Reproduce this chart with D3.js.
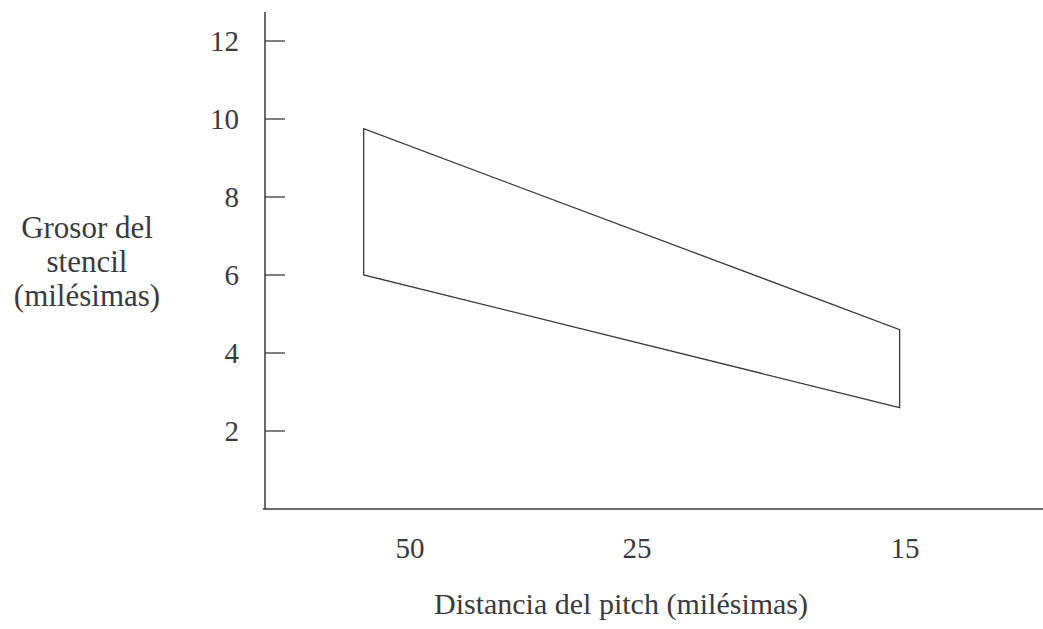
<!DOCTYPE html>
<html><head><meta charset="utf-8">
<script src="https://cdn.jsdelivr.net/npm/d3@7"></script>
<style>html,body{margin:0;padding:0;background:#fff;}svg{display:block;}</style>
</head><body>
<script>
// Data
const pitchCategories = [50, 25, 15];            // x tick labels (schematic axis)
const yTicks = [2, 4, 6, 8, 10, 12];
// Polygon outline: pitch (x) and stencil thickness (y)
const regionPitch = [55.1, 55.1, 15.2, 15.2];
const regionThickness = [9.75, 6.0, 2.6, 4.6];
const yLabelLines = ["Grosor del", "stencil", "(milésimas)"];
const xLabel = "Distancia del pitch (milésimas)";

const W = 1043, H = 629;
const svg = d3.select("body").append("svg").attr("width", W).attr("height", H);
const ink = "#3a3a3e";
const font = "'Liberation Serif', 'Times New Roman', serif";

const axisX = 265, axisY = 509;
// schematic piecewise-linear x scale
const x = d3.scaleLinear().domain(pitchCategories).range([410, 637, 905]);
const y = d3.scaleLinear().domain([0, 12]).range([axisY, 41]);

// axes lines
svg.append("line").attr("x1", axisX).attr("x2", axisX).attr("y1", 12).attr("y2", axisY)
  .attr("stroke", ink).attr("stroke-width", 1.5);
svg.append("line").attr("x1", axisX - 2).attr("x2", W).attr("y1", axisY).attr("y2", axisY)
  .attr("stroke", ink).attr("stroke-width", 1.5);

// y ticks (inward)
const yt = svg.append("g");
yt.selectAll("line").data(yTicks).join("line")
  .attr("x1", axisX).attr("x2", axisX + 20)
  .attr("y1", d => y(d)).attr("y2", d => y(d))
  .attr("stroke", ink).attr("stroke-width", 1.3);
yt.selectAll("text").data(yTicks).join("text")
  .attr("x", 239).attr("y", d => y(d)).attr("dy", "0.35em")
  .attr("text-anchor", "end").attr("font-family", font).attr("font-size", 29)
  .attr("fill", ink).text(d => d);

// x tick labels
svg.append("g").selectAll("text").data(pitchCategories).join("text")
  .attr("x", d => x(d)).attr("y", 558)
  .attr("text-anchor", "middle").attr("font-family", font).attr("font-size", 29)
  .attr("fill", ink).text(d => d);

// x label
svg.append("text").attr("x", 621).attr("y", 614).attr("text-anchor", "middle")
  .attr("font-family", font).attr("font-size", 30).attr("fill", ink).text(xLabel);

// y label
svg.append("g").selectAll("text").data(yLabelLines).join("text")
  .attr("x", 87).attr("y", (d, i) => 238 + i * 34).attr("text-anchor", "middle")
  .attr("font-family", font).attr("font-size", 31).attr("fill", ink).text(d => d);

// region polygon
const pts = regionPitch.map((p, i) => [x(p), y(regionThickness[i])]);
svg.append("path").attr("d", d3.line()(pts) + "Z")
  .attr("fill", "none").attr("stroke", ink).attr("stroke-width", 1.3)
  .attr("stroke-linejoin", "miter");
</script>
</body></html>
